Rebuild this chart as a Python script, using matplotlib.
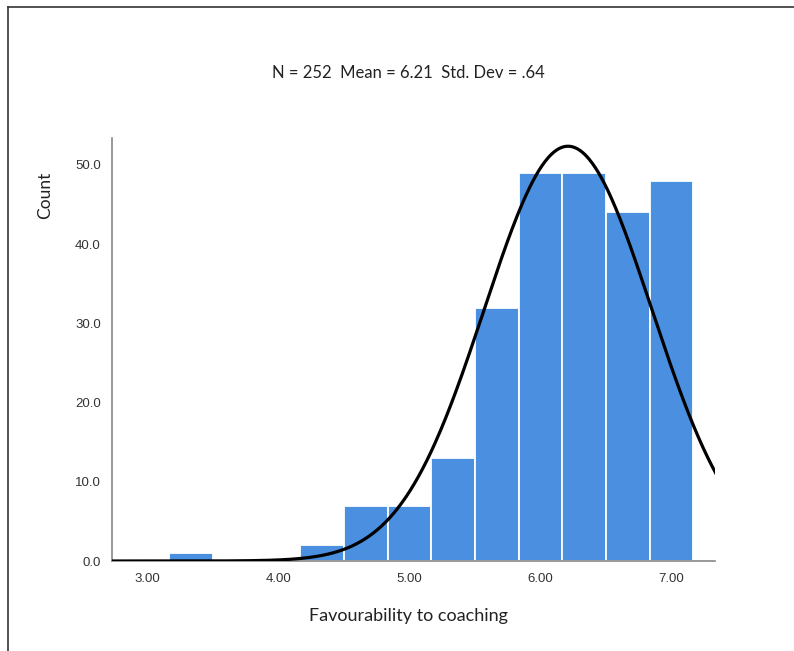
import numpy as np
import matplotlib
matplotlib.use("Agg")
import matplotlib.pyplot as plt
from matplotlib.lines import Line2D

# Data
bin_edges = [3.1667, 3.5, 3.8333, 4.1667, 4.5, 4.8333, 5.1667, 5.5, 5.8333, 6.1667, 6.5, 6.8333, 7.1667]
counts = [1, 0, 0, 2, 7, 7, 13, 32, 49, 49, 44, 48]
n_total = 252
mean_val = 6.21
sd_val = 0.64
x_ticks = [3.0, 4.0, 5.0, 6.0, 7.0]
x_ticklabels = ["3.00", "4.00", "5.00", "6.00", "7.00"]
y_ticks = [0, 10, 20, 30, 40, 50]
y_ticklabels = ["0.0", "10.0", "20.0", "30.0", "40.0", "50.0"]
title_text = "N = 252  Mean = 6.21  Std. Dev = .64"
xlabel_text = "Favourability to coaching"
ylabel_text = "Count"

fig = plt.figure(figsize=(7.94, 6.51), dpi=100)
ax = fig.add_axes([112/794, 1-561/651, (715-112)/794, (561-138)/651])

edges = np.array(bin_edges)
widths = np.diff(edges)
ax.bar(edges[:-1], counts, width=widths, align='edge', color='#4a8fe0',
       edgecolor='white', linewidth=1.3, zorder=2)

binw = widths.mean()
xs = np.linspace(2.7, 7.4, 600)
ys = n_total * binw * np.exp(-0.5*((xs-mean_val)/sd_val)**2) / (sd_val*np.sqrt(2*np.pi))
ax.plot(xs, ys, color='black', linewidth=2.3, zorder=3)

ax.set_xlim(2.729, 7.332)
ax.set_ylim(0, 53.4)
ax.set_xticks(x_ticks)
ax.set_xticklabels(x_ticklabels)
ax.set_yticks(y_ticks)
ax.set_yticklabels(y_ticklabels)
ax.tick_params(axis='both', length=0, labelsize=9.5, labelcolor='#333333',
               labelfontfamily='Liberation Sans')
ax.tick_params(axis='x', pad=9)
ax.tick_params(axis='y', pad=8)
for s in ['top', 'right']:
    ax.spines[s].set_visible(False)
for s in ['left', 'bottom']:
    ax.spines[s].set_color('#888888')
    ax.spines[s].set_linewidth(1.2)

fig.text(408/794, 1-73/651, title_text, ha='center', va='center',
         fontsize=12, family='Lato', color='#222222')
fig.text(408/794, 1-616/651, xlabel_text, ha='center', va='center',
         fontsize=13, family='Lato', color='#222222')
fig.text(45/794, 1-195/651, ylabel_text, ha='center', va='center', rotation=90,
         fontsize=12.5, family='Lato', color='#222222')

# frame border
fig.add_artist(Line2D([8/794, 1.0], [1-7/651, 1-7/651], transform=fig.transFigure,
                      color='#333333', linewidth=1.2))
fig.add_artist(Line2D([8/794, 8/794], [0, 1-7/651], transform=fig.transFigure,
                      color='#333333', linewidth=1.2))

fig.savefig("out.png", dpi=100)
